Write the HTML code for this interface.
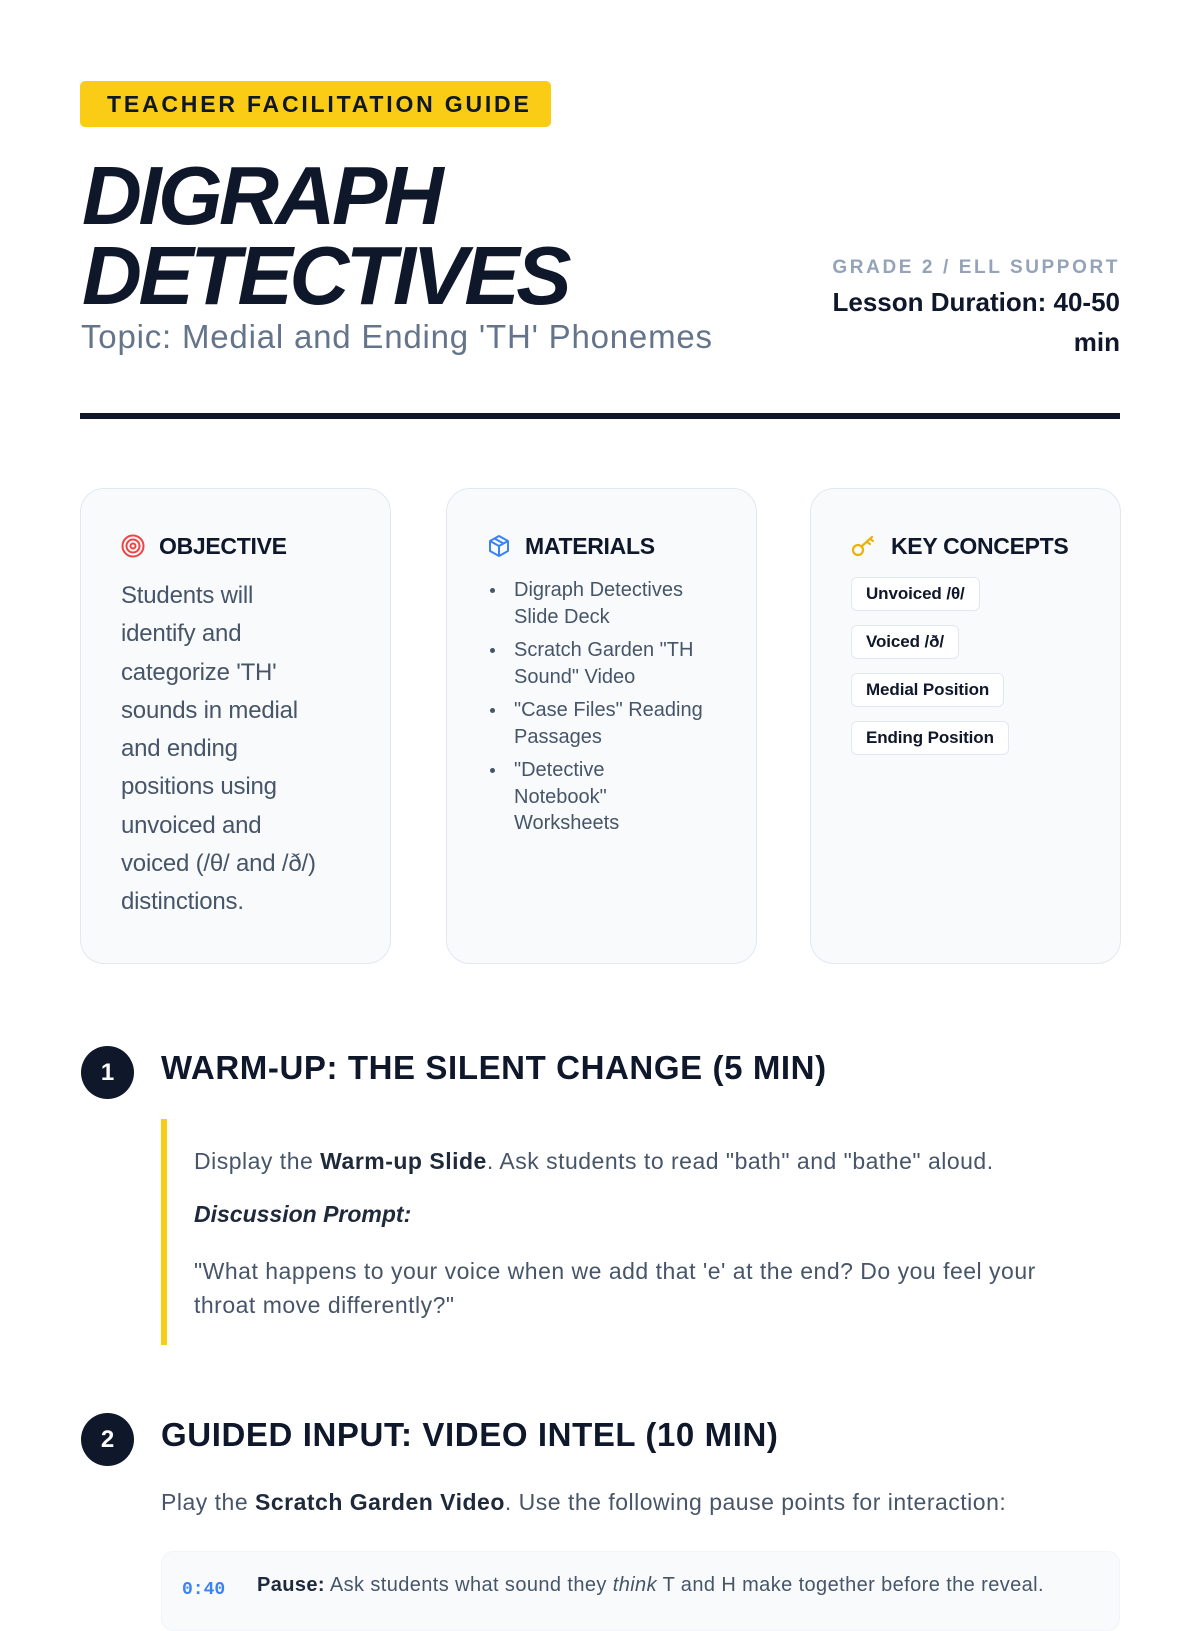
<!DOCTYPE html>
<html><head><meta charset="utf-8"><style>
*{margin:0;padding:0;box-sizing:border-box}
body{width:1200px;height:1600px;overflow:hidden;background:#fff;font-family:"Liberation Sans","DejaVu Sans",sans-serif;color:#0f172a;position:relative}
.abs{position:absolute}
.badge{left:80px;top:81px;width:471px;height:46px;background:#facc15;border-radius:5px;font-weight:700;font-size:23px;letter-spacing:2.8px;line-height:46px;padding-left:27px;color:#0f172a}
.title{left:82px;top:156px;font-size:83px;line-height:80px;font-weight:900;font-style:italic;letter-spacing:-3.5px;color:#0f172a}
.topic{left:81px;top:318px;font-size:33px;color:#64748b;letter-spacing:0.8px}
.grade{right:80px;top:257px;font-size:19px;font-weight:700;letter-spacing:2.6px;color:#94a3b8;text-align:right}
.dur{right:80px;top:282px;width:330px;font-size:26px;font-weight:700;line-height:40px;text-align:right;color:#0f172a}
.rule{left:80px;top:413px;width:1040px;height:6px;background:#0f172a}
.card{top:488px;width:311px;height:476px;background:#f8fafc;border:1.5px solid #e2e8f0;border-radius:24px;padding:40px 30px 0 40px}
.ch{font-size:23px;font-weight:700;display:flex;align-items:center;gap:14px;height:34px;margin-bottom:14px;letter-spacing:-0.3px}
.obj{font-size:24px;line-height:38.3px;color:#475569;letter-spacing:-0.2px;margin-top:4px}
ul{list-style:none;font-size:20px;line-height:26.5px;color:#475569;margin-top:6px}
ul li{position:relative;padding-left:27px;margin-bottom:7px}
ul li:before{content:"";position:absolute;left:3px;top:11px;width:5px;height:5px;border-radius:50%;background:#475569}
.tags{margin-top:6px}
.tag{display:inline-block;background:#fff;border:1.5px solid #e2e8f0;border-radius:6px;font-size:17px;font-weight:700;padding:0 14px;height:34px;line-height:31px;margin-bottom:14px;letter-spacing:-0.1px}
.num{left:81px;width:53px;height:53px;border-radius:50%;background:#0f172a;color:#fff;font-weight:700;font-size:24px;text-align:center;line-height:53px}
.sh{left:161px;font-size:33px;font-weight:900;letter-spacing:0.6px;color:#0f172a}
.bar{left:161px;top:1119px;width:6px;height:226px;background:#facc15}
.p{left:194px;font-size:23px;color:#475569;letter-spacing:0.5px}
.p b{color:#1e293b}
.box{left:161px;top:1551px;width:959px;height:80px;background:#f8fafc;border:1.5px solid #f1f5f9;border-radius:12px}
</style></head><body>
<div class="abs badge">TEACHER FACILITATION GUIDE</div>
<div class="abs title">DIGRAPH<br>DETECTIVES</div>
<div class="abs topic">Topic: Medial and Ending 'TH' Phonemes</div>
<div class="abs grade">GRADE 2 / ELL SUPPORT</div>
<div class="abs dur">Lesson Duration: 40-50 min</div>
<div class="abs rule"></div>

<div class="abs card" style="left:80px">
<div class="ch"><svg width="24" height="24" viewBox="0 0 24 24"><circle cx="12" cy="12" r="10.5" fill="none" stroke="#ef4444" stroke-width="2"/><circle cx="12" cy="12" r="6.5" fill="none" stroke="#ef4444" stroke-width="2"/><circle cx="12" cy="12" r="2.5" fill="none" stroke="#ef4444" stroke-width="2"/></svg>OBJECTIVE</div>
<div class="obj">Students will<br>identify and<br>categorize 'TH'<br>sounds in medial<br>and ending<br>positions using<br>unvoiced and<br>voiced (/θ/ and /ð/)<br>distinctions.</div>
</div>
<div class="abs card" style="left:446px">
<div class="ch"><svg width="24" height="24" viewBox="0 0 24 24"><path d="M12 2 L21 7 V17 L12 22 L3 17 V7 Z M3 7 L12 12 L21 7 M12 12 V22 M7.5 4.5 L16.5 9.5" fill="none" stroke="#3b82f6" stroke-width="2" stroke-linejoin="round"/></svg>MATERIALS</div>
<ul><li>Digraph Detectives<br>Slide Deck</li><li>Scratch Garden "TH<br>Sound" Video</li><li>"Case Files" Reading<br>Passages</li><li>"Detective<br>Notebook"<br>Worksheets</li></ul>
</div>
<div class="abs card" style="left:810px">
<div class="ch"><svg width="26" height="24" viewBox="0 0 26 24"><circle cx="7" cy="16" r="5" fill="none" stroke="#eab308" stroke-width="2.2"/><path d="M10.5 12.5 L21 3 M16 8 L19 10 M19 5 L22 7" fill="none" stroke="#eab308" stroke-width="2.2" stroke-linecap="round"/></svg>KEY CONCEPTS</div>
<div class="tags"><div class="tag">Unvoiced /θ/</div><br><div class="tag">Voiced /ð/</div><br><div class="tag">Medial Position</div><br><div class="tag">Ending Position</div></div>
</div>

<div class="abs num" style="top:1046px">1</div>
<div class="abs sh" style="top:1049px">WARM-UP: THE SILENT CHANGE (5 MIN)</div>
<div class="abs bar"></div>
<div class="abs p" style="top:1148px">Display the <b>Warm-up Slide</b>. Ask students to read "bath" and "bathe" aloud.</div>
<div class="abs p" style="top:1201px;color:#0f172a;letter-spacing:0"><b><i>Discussion Prompt:</i></b></div>
<div class="abs p" style="top:1254px;line-height:34px;width:880px">"What happens to your voice when we add that 'e' at the end? Do you feel your throat move differently?"</div>

<div class="abs num" style="top:1413px">2</div>
<div class="abs sh" style="top:1416px">GUIDED INPUT: VIDEO INTEL (10 MIN)</div>
<div class="abs p" style="left:161px;top:1489px">Play the <b>Scratch Garden Video</b>. Use the following pause points for interaction:</div>
<div class="abs box"></div>
<div class="abs" style="left:182px;top:1580px;font-family:'Liberation Mono',monospace;font-weight:700;font-size:18px;color:#3b82f6">0:40</div>
<div class="abs" style="left:257px;top:1574px;font-size:20px;color:#475569;letter-spacing:0.4px"><b style="color:#1e293b">Pause:</b> Ask students what sound they <i>think</i> T and H make together before the reveal.</div>
</body></html>
